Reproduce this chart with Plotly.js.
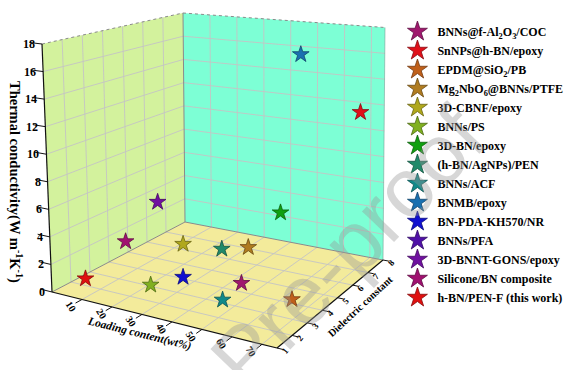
<!DOCTYPE html>
<html>
<head>
<meta charset="utf-8">
<script src="https://cdn.plot.ly/plotly-3.0.1.min.js"></script>
<style>
html,body{margin:0;padding:0;background:#fff;}
#chart{width:576px;height:370px;}
</style>
</head>
<body>
<div id="chart"></div>
<script>
// ---------------- data ----------------
var names = [
  'BNNs@f-Al<sub>2</sub>O<sub>3</sub>/COC',
  'SnNPs@h-BN/epoxy',
  'EPDM@SiO<sub>2</sub>/PB',
  'Mg<sub>2</sub>NbO<sub>6</sub>@BNNs/PTFE',
  '3D-CBNF/epoxy',
  'BNNs/PS',
  '3D-BN/epoxy',
  '(h-BN/AgNPs)/PEN',
  'BNNs/ACF',
  'BNMB/epoxy',
  'BN-PDA-KH570/NR',
  'BNNs/PFA',
  '3D-BNNT-GONS/epoxy',
  'Silicone/BN composite',
  'h-BN/PEN-F (this work)'
];
// loading content (wt%), dielectric constant, thermal conductivity (W m-1 K-1)
var loading      = [51.2, 66.7, 65.4, 41.3, 25.6, 25.0, 51.3, 34.9, 49.9, 44.4, 31.0, null, 25.2, 19.0, 9.5];
var dielectric   = [3.2,  7.9,  3.8,  5.3,  4.1,  2.35, 5.57, 4.8,  2.28, 7.9,  3.2,  null, 2.8,  2.0,  1.3];
var conductivity = [1.5,  11.3, 0.5,  2.0,  2.5,  0.8,  4.8,  2.0,  1.0,  15.4, 1.0,  null, 6.5,  3.9,  1.25];
var colors = ['#a0186e','#e0101a','#c0601a','#b07c20','#b0a81c','#80b020','#10a010',
              '#208a6a','#108a8a','#1a70b0','#1010d0','#5010a8','#7010a0','#a01070','#e01010'];
var xTicks = [10,20,30,40,50,60,70];
var yTicks = [1,2,3,4,5,6,7,8];
var zTicks = [0,2,4,6,8,10,12,14,16,18];
var xRange = [0,75], yRange = [1,8], zRange = [0,18];

// ------------- 3D box projection (no WebGL): screen positions of the 8 box corners -------------
var K = {
  c000:[52,292], c100:[277,348], c110:[383,260], c010:[185,222],
  c001:[42,44],  c101:[277,72],  c111:[385,27.5], c011:[183,13]
};
function proj(x,y,z){
  var u=(x-xRange[0])/(xRange[1]-xRange[0]);
  var v=(y-yRange[0])/(yRange[1]-yRange[0]);
  var w=(z-zRange[0])/(zRange[1]-zRange[0]);
  var out=[0,0];
  for (var k=0;k<2;k++){
    var f0 = (1-u)*(1-v)*K.c000[k] + u*(1-v)*K.c100[k] + u*v*K.c110[k] + (1-u)*v*K.c010[k];
    var f1 = (1-u)*(1-v)*K.c001[k] + u*(1-v)*K.c101[k] + u*v*K.c111[k] + (1-u)*v*K.c011[k];
    out[k] = f0*(1-w) + f1*w;
  }
  return out;
}
function darken(hex, f){
  var r=parseInt(hex.substr(1,2),16), g=parseInt(hex.substr(3,2),16), b=parseInt(hex.substr(5,2),16);
  return 'rgb('+Math.round(r*f)+','+Math.round(g*f)+','+Math.round(b*f)+')';
}
function poly(pts, color){
  var xs=[], ys=[];
  pts.forEach(function(p){ var q=proj(p[0],p[1],p[2]); xs.push(q[0]); ys.push(q[1]); });
  xs.push(xs[0]); ys.push(ys[0]);
  return {type:'scatter', mode:'lines', x:xs, y:ys, fill:'toself', fillcolor:color,
          line:{width:0, color:color}, showlegend:false, hoverinfo:'skip'};
}
function segs(list, color, width, dash){
  var xs=[], ys=[];
  list.forEach(function(s){
    var a=proj(s[0][0],s[0][1],s[0][2]), b=proj(s[1][0],s[1][1],s[1][2]);
    xs.push(a[0],b[0],null); ys.push(a[1],b[1],null);
  });
  return {type:'scatter', mode:'lines', x:xs, y:ys, line:{color:color, width:width, dash:dash||'solid'},
          showlegend:false, hoverinfo:'skip'};
}

var x0=xRange[0], x1=xRange[1], y0=yRange[0], y1=yRange[1], z0=zRange[0], z1=zRange[1];
var traces = [];
// walls
traces.push(poly([[x0,y0,z0],[x1,y0,z0],[x1,y1,z0],[x0,y1,z0]], '#f3eb9b'));   // floor
traces.push(poly([[x0,y0,z0],[x0,y1,z0],[x0,y1,z1],[x0,y0,z1]], '#d3f29d'));   // left wall (x = min)
traces.push(poly([[x0,y1,z0],[x1,y1,z0],[x1,y1,z1],[x0,y1,z1]], '#7dffd5'));   // back wall (y = max)

// grid lines
var g = [];
var yGrid = yTicks.filter(function(t){return t>y0 && t<y1;});
var zGrid = zTicks.filter(function(t){return t>z0 && t<z1;});
xTicks.forEach(function(t){ g.push([[t,y0,z0],[t,y1,z0]]); g.push([[t,y1,z0],[t,y1,z1]]); });
yGrid.forEach(function(t){ g.push([[x0,t,z0],[x1,t,z0]]); g.push([[x0,t,z0],[x0,t,z1]]); });
zGrid.forEach(function(t){ g.push([[x0,y0,t],[x0,y1,t]]); g.push([[x0,y1,t],[x1,y1,t]]); });
traces.push(segs(g, 'rgba(196,196,196,0.9)', 1));

// box edges
traces.push(segs([[[x0,y0,z1],[x0,y1,z1]], [[x0,y1,z1],[x1,y1,z1]]], '#8a8a8a', 1, 'dot'));
traces.push(segs([[[x0,y1,z0],[x0,y1,z1]], [[x0,y0,z0],[x0,y1,z0]], [[x0,y1,z0],[x1,y1,z0]]], '#8a8a8a', 1));
traces.push(segs([[[x1,y1,z0],[x1,y1,z1]]], 'rgba(120,160,150,0.6)', 1));
// axis lines
traces.push(segs([[[x0,y0,z0],[x0,y0,z1]], [[x0,y0,z0],[x1,y0,z0]], [[x1,y0,z0],[x1,y1,z0]]], '#111', 1.2));

// tick marks (short segments outward)
var tk = [];
zTicks.forEach(function(t){ tk.push([[x0,y0,t],[x0-4,y0,t]]); });
xTicks.forEach(function(t){ tk.push([[t,y0,z0],[t,y0-0.35,z0]]); });
yTicks.forEach(function(t){ tk.push([[x1,t,z0],[x1+2.2,t,z0]]); });
traces.push(segs(tk, '#111', 1));

// data stars
for (var i=0;i<names.length;i++){
  var p = (loading[i]===null) ? [null,null] : proj(loading[i], dielectric[i], conductivity[i]);
  traces.push({
    type:'scatter', mode:'markers', x:[p[0]], y:[p[1]], name:names[i], legendgroup:'s'+i,
    marker:{symbol:'star', size:12.5, color:colors[i], line:{color:darken(colors[i],0.6), width:0.8}},
    showlegend:false, hoverinfo:'skip'
  });
}
// legend entries (same series, larger legend symbol)
for (var j=0;j<names.length;j++){
  traces.push({
    type:'scatter', mode:'markers', x:[null], y:[null], name:names[j], legendgroup:'s'+j,
    marker:{symbol:'star', size:15, color:colors[j], line:{color:darken(colors[j],0.6), width:0.8}},
    showlegend:true, hoverinfo:'skip'
  });
}

// ------------- text -------------
var ann = [];
var serifB = {family:'Liberation Serif', color:'#000', weight:'bold'};
function fnt(sz, extra){ var o=Object.assign({}, serifB, {size:sz}); return Object.assign(o, extra||{}); }
zTicks.forEach(function(t){
  var p=proj(x0,y0,t);
  ann.push({x:p[0]-5, y:p[1], text:String(t), xanchor:'right', yanchor:'middle', showarrow:false, font:fnt(12)});
});
xTicks.forEach(function(t){
  var p=proj(t,y0,z0);
  ann.push({x:p[0]-11, y:p[1]+7, text:String(t), xanchor:'center', yanchor:'middle', showarrow:false,
            textangle:58, font:fnt(10)});
});
yTicks.forEach(function(t){
  var p=proj(x1,t,z0);
  ann.push({x:p[0]+8, y:p[1]+3, text:String(t), xanchor:'center', yanchor:'middle', showarrow:false,
            textangle:-50, font:fnt(9)});
});
// axis titles
ann.push({x:16, y:182, text:'Thermal conductivity(W m<sup>-1</sup>K<sup>-1</sup>)', textangle:90,
          showarrow:false, xanchor:'center', yanchor:'middle', font:fnt(14.5)});
ann.push({x:139, y:333, text:'<i>Loading content(wt%)</i>', textangle:14,
          showarrow:false, xanchor:'center', yanchor:'middle', font:fnt(11.5)});
ann.push({x:360, y:306, text:'Dielectric constant', textangle:-43,
          showarrow:false, xanchor:'center', yanchor:'middle', font:fnt(10.5)});
// watermark
ann.push({x:348, y:248, text:'Pre-proof', textangle:-46, showarrow:false, xanchor:'center', yanchor:'middle',
          font:{family:'Liberation Sans', size:84, color:'rgba(150,150,150,0.38)'}});
ann.forEach(function(a){ a.xref='x'; a.yref='y'; });

var layout = {
  width:576, height:370,
  margin:{l:0,r:0,t:0,b:0},
  paper_bgcolor:'#fff', plot_bgcolor:'#fff',
  showlegend:true,
  legend:{x:0.69, y:0.954, xanchor:'left', yanchor:'top',
          font:{family:'Liberation Serif', size:12, color:'#000', weight:'bold'},
          tracegroupgap:0, itemwidth:30, bgcolor:'rgba(0,0,0,0)'},
  xaxis:{range:[0,576], visible:false, fixedrange:true},
  yaxis:{range:[370,0], visible:false, fixedrange:true},
  annotations:ann
};

Plotly.newPlot('chart', traces, layout, {displayModeBar:false, staticPlot:true});
</script>
</body>
</html>
